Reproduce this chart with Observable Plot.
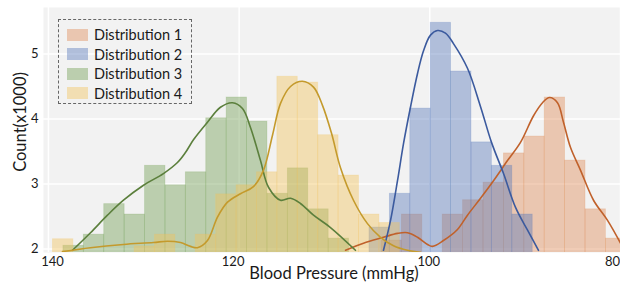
<!DOCTYPE html>
<html><head><meta charset="utf-8">
<script src="https://cdn.jsdelivr.net/npm/d3@7"></script>
<script src="https://cdn.jsdelivr.net/npm/@observablehq/plot@0.6"></script>
<style>
body{margin:0;background:#fff;font-family:Lato,"Open Sans",sans-serif;}
#wrap{position:relative;width:620px;height:282px;overflow:hidden;}
#legend{position:absolute;left:58px;top:19px;width:134px;height:85px;border:1px dashed #666;box-sizing:border-box;padding:5px 0 0 8px;}
.item{display:flex;align-items:center;height:19.5px;font-size:14.5px;color:#1a1a1a;}
.sw{width:21px;height:12px;margin-right:6px;}
.title{position:absolute;font-size:16.5px;color:#1a1a1a;white-space:nowrap;line-height:1;}
#xtitle{left:334px;top:273px;transform:translate(-50%,-50%);}
#ytitle{left:19.5px;top:122px;transform:translate(-50%,-50%) rotate(-90deg);}
</style></head><body>
<div id="wrap"><div id="chart"></div><div id="legend"></div>
<div class="title" id="xtitle"></div><div class="title" id="ytitle"></div></div>
<script>
const names = ["Distribution 1","Distribution 2","Distribution 3","Distribution 4"];
const fills = ["#e08a55","#5577bb","#6f9e50","#f2c45a"];
const strokes = ["#c0612b","#3b5a9e","#5b7f3c","#c49a2c"];
const xTitle = "Blood Pressure (mmHg)";
const yTitle = "Count(x1000)";
const binWidth = 2.14;

// histogram bins: first bin's high edge (mmHg), counts (x1000), going toward lower pressure
const start1 = 105.07, counts1 = [2.13,2.53,1.9,2.53,2.75,3.02,3.47,3.73,4.33,3.36,2.61,2.16];
const start2 = 106.33, counts2 = [2.33,2.85,4.16,5.48,4.73,3.64,3.28,2.53];
const start3 = 138.43, counts3 = [2.05,2.22,2.69,2.53,3.28,2.98,3.18,4.01,4.33,3.96,2.85,3.24,2.61,2.16];
const start4 = 139.53, counts4 = [2.15,1.9,1.9,1.9,2.04,2.22,1.9,2.22,2.84,2.98,3.18,4.65,4.56,3.75,3.13,2.53,2.4];

// KDE curves [pressure, count]
const kde1 = [[108.84,1.98],[106.96,2.09],[104.86,2.18],[103.39,2.24],[102.34,2.25],[101.29,2.18],[100.24,2.07],[99.72,2.04],[98.57,2.13],[97.10,2.30],[96.05,2.52],[94.68,2.78],[93.32,3.05],[91.85,3.36],[90.49,3.64],[89.12,4.05],[88.18,4.25],[87.45,4.33],[86.61,4.25],[85.98,3.95],[85.24,3.56],[84.19,3.21],[82.83,2.75],[81.36,2.44],[80.0,2.09]];
const kde2 = [[104.86,1.98],[104.12,2.44],[103.39,3.05],[102.76,3.62],[102.03,4.18],[101.29,4.70],[100.66,5.05],[99.93,5.29],[99.19,5.36],[98.36,5.32],[97.52,5.16],[96.05,4.78],[94.68,4.19],[93.53,3.64],[92.27,3.16],[91.01,2.64],[89.75,2.29],[88.60,1.98]];
const kde3 = [[137.48,1.98],[135.59,2.25],[133.81,2.52],[132.13,2.75],[130.03,2.98],[127.94,3.16],[126.47,3.33],[125.65,3.48],[124.79,3.68],[123.32,3.95],[121.96,4.18],[120.70,4.25],[119.65,4.16],[118.81,3.87],[117.76,3.36],[116.92,2.95],[115.66,2.75],[114.61,2.78],[113.57,2.70],[112.20,2.52],[110.42,2.33],[107.80,1.98]];
const kde4 = [[138.53,1.96],[135.59,2.02],[132.13,2.07],[128.99,2.10],[127.52,2.12],[126.15,2.10],[125.10,2.04],[124.37,2.02],[123.32,2.13],[122.27,2.49],[121.22,2.72],[119.86,2.85],[118.50,2.96],[117.45,3.21],[116.50,3.75],[115.66,4.24],[114.61,4.50],[113.36,4.58],[112.20,4.49],[111.26,4.21],[110.31,3.78],[109.37,3.25],[108.01,2.75],[106.54,2.39],[105.17,2.18],[103.81,2.05],[102.34,1.98],[100.98,1.95]];

const xTicks = [140,120,100,80];
const yTicks = [2,3,4,5];

const starts = [start1,start2,start3,start4];
const countsAll = [counts1,counts2,counts3,counts4];
const kdes = [kde1,kde2,kde3,kde4];

const bins = [];
countsAll.forEach((cs,k)=>cs.forEach((c,i)=>bins.push({k, x1: starts[k]-i*binWidth, x2: starts[k]-(i+1)*binWidth, y: c})));
const lines = [];
kdes.forEach((pts,k)=>pts.forEach(([x,y])=>lines.push({k,x,y})));

const tickStyle = {tickSize: 0, tickPadding: 4, fontSize: 13, label: null};
const chart = Plot.plot({
  width: 620, height: 282,
  marginLeft: 43, marginRight: 0, marginTop: 7, marginBottom: 30,
  style: {fontFamily: "Lato, 'Open Sans', sans-serif", color: "#1a1a1a", background: "white"},
  x: {domain: [140.52, 80]},
  y: {domain: [1.946, 5.715]},
  marks: [
    Plot.frame({fill: "#f2f2f2", stroke: null}),
    Plot.gridX(xTicks, {stroke: "white", strokeOpacity: 1, strokeWidth: 1.5}),
    Plot.gridY(yTicks, {stroke: "white", strokeOpacity: 1, strokeWidth: 1.5}),
    Plot.rect(bins, {x1: "x1", x2: "x2", y1: 0, y2: "y", fill: d=>fills[d.k], fillOpacity: 0.42, stroke: d=>fills[d.k], strokeOpacity: 0.25, strokeWidth: 0.8, clip: true}),
    Plot.line(lines, {x: "x", y: "y", z: "k", stroke: d=>strokes[d.k], strokeWidth: 1.6, curve: "catmull-rom", clip: true}),
    Plot.axisX([xTicks[0]], {...tickStyle, dx: 4}),
    Plot.axisX([xTicks[1]], {...tickStyle, dx: -6}),
    Plot.axisX([xTicks[2]], {...tickStyle, dx: -1}),
    Plot.axisX([xTicks[3]], {...tickStyle, dx: -8}),
    Plot.axisY(yTicks, {tickSize: 0, tickPadding: 5, fontSize: 13, label: null, tickFormat: d => String(d)})
  ]
});
document.getElementById("chart").appendChild(chart);
document.getElementById("xtitle").textContent = xTitle;
document.getElementById("ytitle").textContent = yTitle;

const leg = document.getElementById("legend");
names.forEach((n,k)=>{
  const it = document.createElement("div"); it.className="item";
  const sw = document.createElement("div"); sw.className="sw"; sw.style.background=fills[k]; sw.style.opacity=0.42;
  const t = document.createElement("span"); t.textContent=n;
  it.appendChild(sw); it.appendChild(t); leg.appendChild(it);
});
</script></body></html>
